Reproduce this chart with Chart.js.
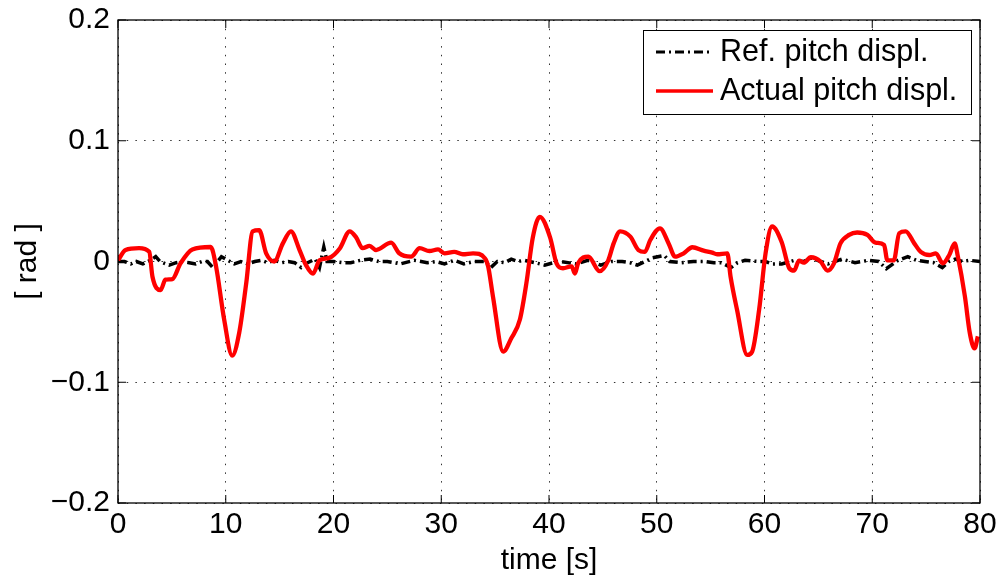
<!DOCTYPE html>
<html>
<head>
<meta charset="utf-8">
<script src="https://cdn.jsdelivr.net/npm/chart.js@4.4.1/dist/chart.umd.min.js"></script>
<style>
html,body{margin:0;padding:0;background:#fff;}
canvas{display:block;}
</style>
</head>
<body>
<canvas id="c" width="1000" height="579"></canvas>
<script>
// ---- data ----
const seriesNames = ['Ref. pitch displ.', 'Actual pitch displ.'];
const xTickValues = [0, 10, 20, 30, 40, 50, 60, 70, 80];
const xTickLabels = ['0', '10', '20', '30', '40', '50', '60', '70', '80'];
const yTickValues = [-0.2, -0.1, 0, 0.1, 0.2];
const yTickLabels = ['\u22120.2', '\u22120.1', '0', '0.1', '0.2'];
const xTitle = 'time [s]';
const yTitle = '[ rad ]';

const refTime = [0, 0.6, 1.2, 1.7, 2.3, 3.0, 3.5, 3.9, 4.75, 5.4, 6, 6.6, 7.2, 7.8, 8.3, 8.8, 9.6, 10.2, 10.8, 11.4, 12, 12.7, 13.3, 13.9, 14.5, 15.2, 15.8, 16.4, 17, 17.6, 18.3, 18.7, 19.1, 19.4, 20, 20.8, 21.6, 22.5, 23.4, 24.2, 25.0, 26.2, 27.5, 28.7, 29.5, 30.3, 31.2, 32.1, 33.05, 34.1, 34.6, 35.2, 35.9, 36.5, 37.1, 37.7, 38.7, 39.6, 40.8, 41.1, 42.5, 43.6, 44.8, 45.8, 46.8, 47.5, 48.2, 49.6, 50.7, 51.2, 52.3, 53.4, 54.5, 55.3, 56.0, 56.9, 57.5, 58.2, 59.4, 60.1, 60.7, 61.6, 62.8, 63.6, 64.4, 65.2, 65.9, 67.2, 68.4, 69.7, 70.6, 71.3, 72.4, 73.3, 74.1, 74.9, 75.7, 76.5, 77.1, 77.7, 78.4, 79.0, 80];
const refValues = [0, 0, -0.002, 0, -0.002, 0.001, 0.004, 0, -0.003, -0.001, 0, -0.001, -0.002, 0, 0, -0.005, 0.004, 0.001, -0.002, 0, -0.002, 0, 0.001, -0.001, 0.001, -0.001, 0, -0.001, -0.005, -0.001, 0.002, -0.005, 0.012, 0, 0, -0.001, -0.001, 0.001, 0.002, 0, 0, -0.002, 0.001, -0.001, 0, -0.002, 0.001, -0.002, 0, 0, -0.005, 0, -0.001, 0.002, 0, 0.001, -0.001, -0.003, 0, 0, -0.002, 0.001, -0.003, 0, 0, -0.001, -0.003, 0.003, 0.005, 0, -0.001, 0, 0, -0.001, -0.001, -0.005, -0.001, 0.001, 0, 0, -0.002, -0.002, 0.001, 0, 0.003, 0, -0.002, 0.002, -0.001, 0.001, 0, -0.006, 0.001, 0.004, 0.001, 0, -0.001, -0.005, 0, 0.002, 0, 0.001, 0];

const actualTime = [0, 0.7, 1.95, 2.9, 3.2, 3.95, 4.4, 5.05, 5.8, 6.9, 8.6, 9.1, 9.85, 10.6, 11.25, 11.9, 12.5, 13.1, 13.75, 14.5, 15.3, 16.05, 16.85, 17.45, 18.1, 18.7, 19.6, 20.6, 21.5, 22.1, 22.7, 23.35, 23.95, 25.35, 26.1, 27.2, 28, 28.9, 29.7, 30.3, 31.2, 32, 32.95, 34.05, 34.35, 34.8, 35.75, 36.5, 37.3, 37.9, 38.5, 39.15, 40.1, 40.7, 41.3, 42.1, 42.4, 42.7, 43.65, 44.7, 45.5, 46, 46.6, 47.55, 48.3, 48.9, 49.4, 50.3, 51.1, 51.7, 52.5, 53.3, 54.35, 55.15, 55.6, 56.55, 56.85, 57.45, 58.4, 58.85, 59.5, 60.1, 60.7, 61.6, 62.3, 62.75, 63.2, 63.65, 64.3, 65.2, 65.85, 66.45, 67.05, 67.85, 68.6, 69.55, 70.3, 71.1, 71.4, 72, 72.5, 73.1, 73.9, 74.5, 75.3, 75.9, 76.55, 77.15, 77.65, 77.95, 78.6, 79.05, 79.5, 79.8];
const actualValues = [0.001, 0.0095, 0.011, 0.008, -0.0126, -0.0236, -0.015, -0.0145, -0.0015, 0.010, 0.012, -0.004, -0.048, -0.078, -0.059, -0.018, 0.025, 0.026, 0.0068, 0, 0.015, 0.025, 0.0095, -0.003, -0.01, 0.001, 0.003, 0.011, 0.025, 0.02, 0.011, 0.013, 0.0095, 0.0156, 0.0068, 0.004, 0.011, 0.0087, 0.010, 0.0068, 0.008, 0.006, 0.0068, 0.0027, -0.004, -0.029, -0.0747, -0.0636, -0.048, -0.018, 0.02, 0.037, 0.02, -0.0015, -0.0056, -0.004, -0.01, -0.0015, 0.004, -0.008, 0.001, 0.015, 0.025, 0.0206, 0.0095, 0.008, 0.0178, 0.0275, 0.015, 0.004, 0.0068, 0.0118, 0.009, 0.0073, 0.006, 0.0068, -0.0126, -0.04, -0.0774, -0.0747, -0.04, 0.0068, 0.029, 0.016, -0.0056, -0.0076, 0.0007, -0.001, 0.0035, 0, -0.0076, -0.0015, 0.015, 0.022, 0.024, 0.022, 0.0156, 0.0137, 0.001, 0.001, 0.0234, 0.025, 0.015, 0.008, 0.0054, 0.0068, -0.0015, 0.0054, 0.015, 0.004, -0.029, -0.059, -0.072, -0.062];

// ---- styles ----
const FONT = '"Liberation Sans", Arial, Helvetica, sans-serif';
const REF_DASH = [9, 4, 2, 4];
const REF_COLOR = '#000000';
const ACT_COLOR = '#ff0000';

Chart.defaults.font.family = FONT;
Chart.defaults.color = '#000';

const toXY = (xs, ys) => xs.map((t, i) => ({ x: t, y: ys[i] }));

const framePlugin = {
  id: 'frame',
  afterDatasetsDraw(chart) {
    const { ctx, chartArea: { left, right, top, bottom }, scales: { x, y } } = chart;
    ctx.save();
    ctx.strokeStyle = '#000';
    ctx.lineWidth = 1.3;
    ctx.setLineDash([]);
    ctx.strokeRect(left, top, right - left, bottom - top);
    const L = 8;
    ctx.beginPath();
    xTickValues.forEach(v => {
      const px = x.getPixelForValue(v);
      ctx.moveTo(px, bottom); ctx.lineTo(px, bottom - L);
      ctx.moveTo(px, top); ctx.lineTo(px, top + L);
    });
    yTickValues.forEach(v => {
      const py = y.getPixelForValue(v);
      ctx.moveTo(left, py); ctx.lineTo(left + L, py);
      ctx.moveTo(right, py); ctx.lineTo(right - L, py);
    });
    ctx.lineWidth = 1;
    ctx.stroke();
    ctx.restore();
  }
};

const legendPlugin = {
  id: 'boxLegend',
  afterDraw(chart) {
    const { ctx, chartArea: { right, top } } = chart;
    const bx = right - 337, by = top + 10, bw = 328, bh = 84;
    ctx.save();
    ctx.fillStyle = '#fff';
    ctx.fillRect(bx, by, bw, bh);
    ctx.strokeStyle = '#000';
    ctx.lineWidth = 1;
    ctx.strokeRect(bx + 0.5, by + 0.5, bw, bh);
    const rows = [
      { label: seriesNames[0], color: REF_COLOR, dash: REF_DASH, width: 3 },
      { label: seriesNames[1], color: ACT_COLOR, dash: [], width: 3.5 }
    ];
    rows.forEach((r, i) => {
      const cy = by + 22 + i * 39;
      ctx.beginPath();
      ctx.setLineDash(r.dash);
      ctx.lineDashOffset = 0;
      ctx.strokeStyle = r.color;
      ctx.lineWidth = r.width;
      ctx.moveTo(bx + 13, cy);
      ctx.lineTo(bx + 70, cy);
      ctx.stroke();
      ctx.setLineDash([]);
      ctx.fillStyle = '#000';
      ctx.font = '30.5px ' + FONT;
      ctx.textAlign = 'left';
      ctx.textBaseline = 'middle';
      ctx.fillText(r.label, bx + 77, cy + 1);
    });
    ctx.restore();
  }
};

new Chart(document.getElementById('c'), {
  type: 'line',
  data: {
    datasets: [
      {
        label: seriesNames[1],
        data: toXY(actualTime, actualValues),
        borderColor: ACT_COLOR,
        borderWidth: 4.3,
        pointRadius: 0,
        cubicInterpolationMode: 'monotone',
        fill: false,
        order: 0
      },
      {
        label: seriesNames[0],
        data: toXY(refTime, refValues),
        borderColor: REF_COLOR,
        borderWidth: 3.5,
        borderDash: REF_DASH,
        pointRadius: 0,
        tension: 0,
        fill: false,
        order: 1
      }
    ]
  },
  options: {
    responsive: false,
    animation: false,
    events: [],
    layout: { padding: { left: 0, right: 20, top: 20, bottom: 0 } },
    plugins: { legend: { display: false }, tooltip: { enabled: false } },
    scales: {
      x: {
        type: 'linear',
        min: 0, max: 80,
        afterBuildTicks(scale) { scale.ticks = xTickValues.map(v => ({ value: v })); },
        afterFit(scale) { scale.height = 76; scale.paddingLeft = 0; scale.paddingRight = 0; },
        ticks: {
          font: { size: 30 },
          color: '#000',
          padding: 4,
          maxRotation: 0,
          callback: (v) => { const i = xTickValues.indexOf(v); return i >= 0 ? xTickLabels[i] : ''; }
        },
        grid: { color: 'rgba(0,0,0,0.8)', lineWidth: 1, drawTicks: false },
        border: { display: false, dash: [1.5, 7.2] },
        title: { display: true, text: xTitle, font: { size: 30 }, color: '#000', padding: { top: 0, bottom: 0 } }
      },
      y: {
        type: 'linear',
        min: -0.2, max: 0.2,
        afterBuildTicks(scale) { scale.ticks = yTickValues.map(v => ({ value: v })); },
        afterFit(scale) { scale.width = 118; scale.paddingTop = 0; scale.paddingBottom = 0; },
        ticks: {
          font: { size: 30 },
          color: '#000',
          padding: 8,
          callback: (v) => { const i = yTickValues.findIndex(t => Math.abs(t - v) < 1e-9); return i >= 0 ? yTickLabels[i] : ''; }
        },
        grid: { color: 'rgba(0,0,0,0.8)', lineWidth: 1, drawTicks: false },
        border: { display: false, dash: [1.5, 7.2] },
        title: { display: true, text: yTitle, font: { size: 30 }, color: '#000', padding: { top: 10, bottom: 0 } }
      }
    }
  },
  plugins: [framePlugin, legendPlugin]
});
</script>
</body>
</html>
